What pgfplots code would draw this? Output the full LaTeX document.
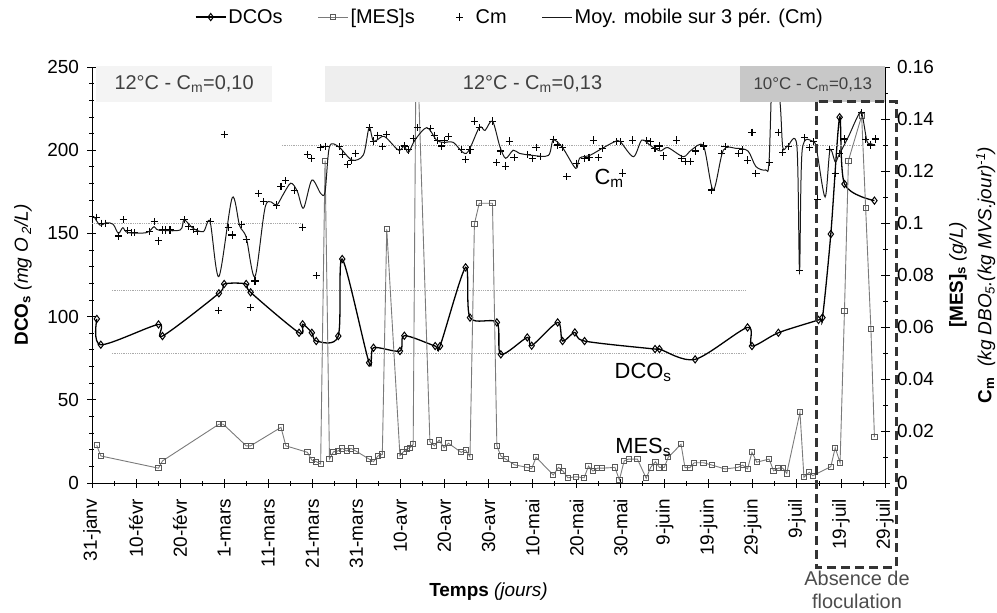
\documentclass[border=0pt]{standalone}
\usepackage{fontspec}
\setmainfont{Liberation Sans}
\usepackage{pgfplots}
\pgfplotsset{compat=1.18}

\definecolor{mesgray}{HTML}{7A7A7A}
\definecolor{boxA}{HTML}{F4F4F4}
\definecolor{boxB}{HTML}{EEEEEE}
\definecolor{boxC}{HTML}{C8C8C8}
\definecolor{boxtxt}{HTML}{404040}
\definecolor{dashc}{HTML}{333333}
\definecolor{refline}{HTML}{AAAAAA}

\newcommand{\tkfont}{\fontsize{19}{22}\selectfont}

\pgfplotsset{
  base/.style={
    width=793bp, height=416bp, scale only axis,
    xmin=0, xmax=180,
    tick align=center,
    major tick length=9bp, minor tick length=5bp,
    every tick/.style={black, line width=0.8pt},
    axis line style={black, line width=0.8pt, -},
    tick label style={font=\tkfont},
    /pgf/number format/assume math mode=true,
    clip mode=individual,
  },
  longleg/.style={legend image code/.code={%
    \draw[mark repeat=2,mark phase=2,##1] plot coordinates {(0bp,0bp) (15bp,0bp) (30bp,0bp)};}},
  markleg/.style={legend image code/.code={%
    \path[draw=none] (0bp,0bp) -- (24bp,0bp);
    \draw[##1] plot coordinates {(10bp,0bp)};}},
}

\begin{document}
\begin{tikzpicture}
\useasboundingbox (-92bp,-130bp) rectangle (905bp,483bp);

% left axis: DCO
\begin{axis}[base,
  ymin=0, ymax=250,
  axis x line*=bottom, axis y line*=left,
  xtick={0,10,...,180}, minor x tick num=1,
  xticklabels={31-janv,10-févr,20-févr,1-mars,11-mars,21-mars,31-mars,10-avr,20-avr,30-avr,10-mai,20-mai,30-mai,9-juin,19-juin,29-juin,9-juil,19-juil,29-juil},
  xticklabel style={yshift=-8bp, rotate=90, anchor=east},
  ytick={0,50,...,250}, minor y tick num=4,
  yticklabel style={xshift=-5bp},
  xlabel={\textbf{Temps} \textit{(jours)}},
  ylabel={\textbf{DCO\textsubscript{s}} \textit{(mg O\,\textsubscript{2}/L)}},
  every axis x label/.style={at={(axis description cs:0.5,-0.262)}, anchor=center, font=\tkfont},
  every axis y label/.style={at={(axis description cs:-0.087,0.5)}, rotate=90, anchor=center, font=\tkfont},
]
\addplot[refline, densely dotted, line width=0.8pt, forget plot] coordinates {(4.5,115.6) (148.5,115.6)};
\addplot[refline, densely dotted, line width=0.8pt, forget plot] coordinates {(4.5,77.9) (148.5,77.9)};
\addplot[black, line width=1.3pt, smooth, mark=diamond, mark size=3.6bp,
  mark options={solid, fill=white, line width=1pt}] table {
x y
1.1 98.6
2.0 83.1
15.1 95.3
16.0 88.3
28.8 114.0
30.0 119.6
35.0 119.6
36.0 114.6
47.0 90.3
47.8 95.4
49.9 90.3
50.9 85.3
55.9 88.3
56.8 134.6
62.9 72.3
63.9 81.3
69.9 79.3
70.9 88.5
77.9 82.3
79.0 82.3
84.8 129.6
85.8 99.4
91.9 96.5
92.8 77.3
98.8 87.5
99.8 82.5
105.7 96.5
106.8 85.3
109.6 90.5
111.8 85.3
127.8 80.5
128.8 80.5
136.9 74.3
148.8 93.5
149.8 82.3
155.8 90.3
164.9 98.0
165.8 99.4
167.7 149.6
169.7 219.8
170.8 179.7
177.6 169.7
};
\node[font=\fontsize{22}{24}\selectfont] at (axis cs:125.1,66.7) {DCO\textsubscript{s}};
\end{axis}

% right axis: MES and Cm
\begin{axis}[base,
  ymin=0, ymax=0.16,
  axis x line=none, axis y line*=right,
  ytick={0,0.02,0.04,0.06,0.08,0.1,0.12,0.14,0.16}, minor y tick num=1,
  scaled y ticks=false,
  yticklabel style={xshift=4bp, /pgf/number format/fixed, /pgf/number format/precision=2},
  legend style={at={(0.527,1.120)}, anchor=center, draw=none, fill=none,
    legend columns=4, font=\fontsize{20}{22}\selectfont,
    nodes={inner xsep=2bp},
    /tikz/every even column/.append style={column sep=33bp}},
  legend cell align=left,
]
\addlegendimage{black, line width=1.3pt, mark=diamond, mark size=3.6bp, mark options={solid, fill=white, line width=1pt}, longleg}
\addlegendentry{DCOs}
\addplot[refline, densely dotted, line width=0.8pt, forget plot] coordinates {(0,0.10) (47.7,0.10)};
\addplot[refline, densely dotted, line width=0.8pt, forget plot] coordinates {(43.1,0.13) (174.8,0.13)};
\addplot[mesgray, line width=0.9pt, mark=square, mark size=2.6bp,
  mark options={solid, draw=black!65, fill=white, line width=0.9pt}, longleg] table {
x y
1.07 0.0145
2.0 0.0104
15.1 0.0057
16.0 0.0085
28.8 0.0226
29.8 0.0226
35.0 0.0143
36.0 0.0143
42.9 0.0214
44.0 0.0143
48.9 0.0118
49.9 0.0088
50.9 0.0082
51.9 0.0073
52.9 0.1240
53.9 0.0092
54.8 0.0120
55.8 0.0123
56.8 0.0133
57.8 0.0123
58.8 0.0133
59.9 0.0123
62.9 0.0092
63.9 0.0082
64.9 0.0104
65.9 0.0110
66.9 0.0977
69.9 0.0105
70.7 0.0120
71.4 0.0130
72.2 0.0136
72.9 0.0149
73.6 0.1790
76.7 0.0159
77.7 0.0143
78.8 0.0165
79.9 0.0136
80.9 0.0153
83.8 0.0118
84.8 0.0127
85.8 0.0101
86.8 0.0996
87.9 0.1076
90.9 0.1076
91.9 0.0143
92.8 0.0104
93.9 0.0092
95.9 0.0070
98.8 0.0060
99.8 0.0055
100.8 0.0099
104.7 0.0031
105.9 0.0060
106.9 0.0046
108.0 0.0020
109.9 0.0024
111.7 0.0020
112.7 0.0065
113.7 0.0046
114.7 0.0057
115.8 0.0057
118.7 0.0060
119.7 0.0012
120.8 0.0085
121.8 0.0092
123.8 0.0092
125.8 0.0018
126.8 0.0060
127.9 0.0082
128.8 0.0060
129.9 0.0060
130.8 0.0099
133.7 0.0149
134.6 0.0059
135.7 0.0059
136.7 0.0078
138.8 0.0078
140.7 0.0069
143.7 0.0054
146.6 0.0060
147.7 0.0069
148.8 0.0054
149.8 0.0118
150.9 0.0080
153.7 0.0092
154.7 0.0047
155.8 0.0057
156.8 0.0057
157.7 0.0037
160.7 0.0272
161.6 0.0022
162.8 0.0041
163.6 0.0028
167.7 0.0063
168.7 0.0136
169.8 0.0078
170.8 0.0663
171.7 0.1240
174.7 0.1412
175.6 0.1059
176.8 0.0592
177.6 0.0176
};
\addlegendentry{[MES]s}
\addplot[only marks, black, mark=+, mark size=3.6bp, mark options={line width=1.1pt}, markleg] table {
x y
1.07 0.1022
2.2 0.0999
3.0 0.0999
6.0 0.0950
7.1 0.1012
8.1 0.0970
8.9 0.0963
9.6 0.0963
13.0 0.0968
14.1 0.1005
15.1 0.0931
16.0 0.0973
16.7 0.0973
17.7 0.0973
20.9 0.1012
22.0 0.0986
23.0 0.0976
24.0 0.0967
26.8 0.1005
28.8 0.0664
30.0 0.1341
30.9 0.0982
31.8 0.0954
34.0 0.0995
35.0 0.0938
36.0 0.0676
37.0 0.0777
37.8 0.1114
38.9 0.1082
41.9 0.1069
42.9 0.1140
44.0 0.1163
45.9 0.1124
47.8 0.0982
48.9 0.1262
49.9 0.1249
50.9 0.0797
51.9 0.1290
52.9 0.1295
56.1 0.1293
56.9 0.1265
58.0 0.1226
59.0 0.1240
59.9 0.1268
62.9 0.1367
63.9 0.1315
64.9 0.1338
65.9 0.1293
66.9 0.1341
69.8 0.1281
70.9 0.1296
71.8 0.1281
72.9 0.1326
73.8 0.1367
76.9 0.1364
77.7 0.1338
78.5 0.1317
79.4 0.1296
80.0 0.1317
80.9 0.1332
83.9 0.1283
84.8 0.1245
85.8 0.1281
86.8 0.1392
87.9 0.1367
90.9 0.1392
91.9 0.1232
92.8 0.1277
93.9 0.1219
94.7 0.1315
95.8 0.1253
98.8 0.1264
99.9 0.1249
100.8 0.1291
101.8 0.1255
104.7 0.1322
105.7 0.1300
106.8 0.1291
107.8 0.1178
109.9 0.1230
111.8 0.1249
112.8 0.1253
113.8 0.1319
114.9 0.1253
115.8 0.1287
119.1 0.1313
119.9 0.1313
120.5 0.1192
122.7 0.1319
125.9 0.1317
126.8 0.1313
127.8 0.1287
128.8 0.1296
129.7 0.1258
132.7 0.1319
133.9 0.1249
134.8 0.1236
135.8 0.1236
136.9 0.1277
138.8 0.1296
140.7 0.1127
142.9 0.1268
143.7 0.1293
146.7 0.1268
147.7 0.1281
148.8 0.1242
149.8 0.1349
150.7 0.1191
153.8 0.1233
155.8 0.1349
156.8 0.1272
158.1 0.1293
160.6 0.0817
161.7 0.1328
162.8 0.1291
163.7 0.1313
164.7 0.1092
167.5 0.1281
168.7 0.1191
169.7 0.1268
170.8 0.1323
174.7 0.1424
175.6 0.1322
176.8 0.1300
177.8 0.1323
};
\addlegendentry{Cm}
\addplot[black!90, line width=1pt, smooth, tension=0.5, longleg] table {
x y
0.5 0.1024
1.8 0.0992
3.3 0.1001
4.8 0.0995
6.0 0.0960
7.0 0.0982
8.1 0.0963
12.4 0.0963
14.1 0.0986
15.1 0.0973
20.0 0.0973
20.9 0.1012
23.0 0.0979
25.3 0.0967
26.8 0.1005
28.8 0.0794
31.8 0.1096
33.5 0.0990
35.0 0.0945
37.0 0.0794
39.4 0.1067
41.9 0.1069
43.1 0.1101
45.1 0.1153
46.6 0.1122
48.0 0.1057
49.9 0.1165
51.9 0.1114
52.9 0.1120
53.9 0.1293
56.0 0.1293
59.0 0.1242
61.6 0.1262
62.9 0.1367
63.9 0.1315
65.9 0.1333
66.9 0.1326
69.6 0.1280
70.9 0.1296
71.8 0.1270
73.3 0.1319
76.0 0.1367
78.2 0.1319
79.8 0.1310
82.0 0.1310
85.0 0.1268
87.9 0.1367
89.2 0.1356
90.9 0.1392
92.6 0.1293
93.9 0.1249
95.6 0.1280
97.0 0.1268
100.0 0.1260
103.6 0.1260
104.7 0.1319
106.8 0.1290
109.8 0.1210
110.7 0.1250
113.0 0.1260
115.8 0.1287
118.7 0.1313
119.9 0.1313
122.9 0.1255
124.8 0.1319
126.9 0.1296
129.0 0.1277
130.7 0.1290
134.2 0.1255
136.0 0.1280
138.8 0.1296
141.0 0.1127
143.3 0.1280
146.2 0.1287
148.9 0.1277
150.7 0.1217
152.9 0.1204
153.7 0.1242
154.7 0.1700
156.2 0.1460
156.8 0.1290
157.9 0.1296
160.0 0.1296
160.6 0.0817
161.2 0.1280
163.7 0.1313
164.5 0.1280
166.4 0.1100
167.5 0.1280
168.7 0.1235
169.5 0.1260
171.7 0.1332
173.6 0.1403
174.7 0.1424
175.9 0.1315
176.8 0.1305
177.8 0.1298
};
\addlegendentry{Moy. mobile sur 3 pér. (Cm)}

% period boxes
\fill[boxA] (axis cs:0.9,0.1465) rectangle (axis cs:40.9,0.1603);
\fill[boxB] (axis cs:52.9,0.1465) rectangle (axis cs:147.1,0.1603);
\fill[boxC] (axis cs:147.1,0.1465) rectangle (axis cs:180,0.1603);
\node[font=\fontsize{20}{22}\selectfont, text=boxtxt] at (axis cs:20.9,0.1533) {12°C - C\textsubscript{m}=0,10};
\node[font=\fontsize{20}{22}\selectfont, text=boxtxt] at (axis cs:100,0.1533) {12°C - C\textsubscript{m}=0,13};
\node[font=\fontsize{17}{19}\selectfont, text=boxtxt] at (axis cs:163.6,0.1533) {10°C - C\textsubscript{m}=0,13};

\node[font=\fontsize{22}{24}\selectfont] at (axis cs:117.4,0.1173) {C\textsubscript{m}};
\node[font=\fontsize{22}{24}\selectfont] at (axis cs:125.1,0.0138) {MES\textsubscript{s}};

\node[rotate=90, font=\tkfont] at (axis description cs:1.092,0.5) {\textbf{[MES]\textsubscript{s}} \textit{(g/L)}};
\node[rotate=90, font=\tkfont] at (axis description cs:1.127,0.5) {\textbf{C\textsubscript{m}}\ \ \textit{(kg DBO\textsubscript{5}.(kg MVS.jour)\textsuperscript{-1})}};
\end{axis}

% period without flocculation
\draw[dashc, line width=3bp, dash pattern=on 9bp off 5bp] (724bp,381bp) rectangle (804bp,-84bp);
\node[align=center, font=\fontsize{20}{23}\selectfont, text=black!70] at (765bp,-107bp) {Absence de\\floculation};
\end{tikzpicture}
\end{document}
